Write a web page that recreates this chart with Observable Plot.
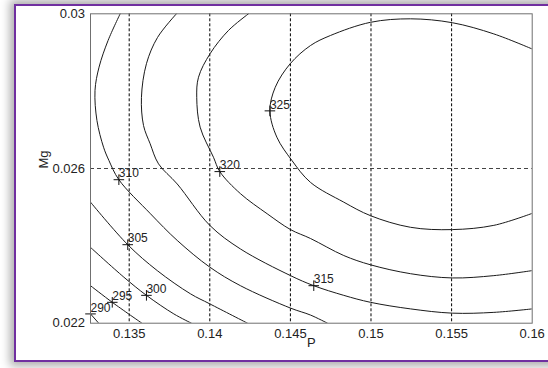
<!DOCTYPE html>
<html>
<head>
<meta charset="utf-8">
<script src="https://cdn.jsdelivr.net/npm/d3@7"></script>
<script src="https://cdn.jsdelivr.net/npm/@observablehq/plot@0.6"></script>
<style>
  html, body { margin: 0; padding: 0; background: #fff; }
  #card {
    position: absolute; left: 14px; top: 4px;
    width: 560px; height: 354px;
    border: 2px solid #7030a0; background: #fff;
    box-shadow: 0 0 9px 4px rgba(0,0,0,0.33);
  }
  #chart { position: absolute; left: 0; top: 0; }
</style>
</head>
<body>
<div id="card"></div>
<div id="chart"></div>
<script>
// Axis ticks and labels
const xTicks = [0.135, 0.14, 0.145, 0.15, 0.155, 0.16];
const xTickLabels = ["0.135", "0.14", "0.145", "0.15", "0.155", "0.16"];
const yTicks = [0.022, 0.026, 0.03];
const yTickLabels = ["0.022", "0.026", "0.03"];

// Contour levels and the traced iso-lines, [P, Mg] pairs
const levels = [290, 295, 300, 305, 310, 315, 320, 325];
const c290 = [[0.13260, 0.02224], [0.13311, 0.02200]];
const c295 = [[0.13260, 0.02297], [0.13395, 0.02254], [0.13579, 0.02200]];
const c300 = [[0.13260, 0.02396], [0.13467, 0.02319], [0.13607, 0.02272], [0.13777, 0.02224], [0.13886, 0.02200]];
const c305 = [[0.13260, 0.02513], [0.13491, 0.02403], [0.13674, 0.02336], [0.13880, 0.02276], [0.14000, 0.02250], [0.14234, 0.02200]];
const c310 = [[0.13444, 0.03000], [0.13369, 0.02931], [0.13313, 0.02862], [0.13288, 0.02802], [0.13300, 0.02724],
              [0.13341, 0.02655], [0.13374, 0.02621], [0.13436, 0.02571], [0.13632, 0.02483], [0.13798, 0.02414],
              [0.14000, 0.02345], [0.14190, 0.02297], [0.14501, 0.02239], [0.14625, 0.02221], [0.14730, 0.02200]];
const c315 = [[0.13793, 0.03000], [0.13676, 0.02939], [0.13607, 0.02871], [0.13576, 0.02784], [0.13589, 0.02711],
              [0.13630, 0.02664], [0.13682, 0.02612], [0.13798, 0.02560], [0.14000, 0.02453], [0.14190, 0.02392],
              [0.14501, 0.02323], [0.14645, 0.02297], [0.14831, 0.02272], [0.14997, 0.02254], [0.15245, 0.02237],
              [0.15504, 0.02226], [0.15762, 0.02228], [0.16000, 0.02237]];
const c320 = [[0.14240, 0.03000], [0.14116, 0.02957], [0.14002, 0.02897], [0.13930, 0.02836], [0.13919, 0.02784],
              [0.13940, 0.02707], [0.14023, 0.02629], [0.14062, 0.02592], [0.14190, 0.02535], [0.14356, 0.02483],
              [0.14501, 0.02442], [0.14625, 0.02419], [0.14831, 0.02375], [0.14997, 0.02351], [0.15245, 0.02328],
              [0.15504, 0.02317], [0.15762, 0.02323], [0.16000, 0.02336]];
const c325 = [[0.16000, 0.02909], [0.15762, 0.02948], [0.15504, 0.02977], [0.15245, 0.02987], [0.14997, 0.02978],
              [0.14749, 0.02944], [0.14625, 0.02918], [0.14499, 0.02871], [0.14406, 0.02810], [0.14373, 0.02749],
              [0.14416, 0.02681], [0.14509, 0.02621], [0.14625, 0.02564], [0.14831, 0.02513], [0.14997, 0.02478],
              [0.15245, 0.02448], [0.15504, 0.02442], [0.15762, 0.02453], [0.16000, 0.02484]];

// Inline level labels: where each "+" sits on its line
const labelLevels = [290, 295, 300, 305, 310, 315, 320, 325];
const labelP  = [0.13260, 0.13395, 0.13607, 0.13491, 0.13436, 0.14645, 0.14062, 0.14373];
const labelMg = [0.02224, 0.02254, 0.02272, 0.02403, 0.02571, 0.02297, 0.02592, 0.02749];

const contours = [c290, c295, c300, c305, c310, c315, c320, c325];
const lineRows = contours.flatMap((pts, i) => pts.map(([P, Mg]) => ({level: levels[i], P, Mg})));
const labelRows = labelLevels.map((level, i) => ({level, P: labelP[i], Mg: labelMg[i]}));

const chart = Plot.plot({
  width: 548,
  height: 368,
  marginTop: 13.3,
  marginRight: 16.3,
  marginBottom: 45.3,
  marginLeft: 90,
  style: {background: "transparent", fontFamily: "'Liberation Sans', Arial, sans-serif", fontSize: "13px", color: "#222"},
  x: {domain: [0.1326, 0.16]},
  y: {domain: [0.022, 0.03]},
  marks: [
    Plot.ruleX(xTicks.filter(d => d < 0.16), {stroke: "#000", strokeDasharray: "3,2", strokeWidth: 1}),
    Plot.ruleY(yTicks.filter(d => d > 0.022 && d < 0.03), {stroke: "#444", strokeDasharray: "4,3", strokeWidth: 1}),
    Plot.line(lineRows, {x: "P", y: "Mg", z: "level", stroke: "#1a1a1a", strokeWidth: 1, curve: "catmull-rom", clip: true}),
    Plot.dot(labelRows, {x: "P", y: "Mg", symbol: "plus", r: 3.5, stroke: "#111", strokeWidth: 1}),
    Plot.text(labelRows, {x: "P", y: "Mg", text: d => String(d.level), textAnchor: "start", lineAnchor: "bottom",
      dx: 0, dy: -2.3, fill: "#222", fontSize: 12}),
    Plot.frame({stroke: "#707070"}),
    Plot.axisX({ticks: xTicks, tickSize: 0, tickPadding: 5.5, tickFormat: (d, i) => xTickLabels[i], label: null}),
    Plot.axisY({ticks: yTicks, tickSize: 0, tickPadding: 5.5, tickFormat: (d, i) => yTickLabels[i], label: null}),
    Plot.text(["P"], {frameAnchor: "bottom", dy: 24, fontSize: 13, fill: "#222"}),
    Plot.text(["Mg"], {frameAnchor: "left", dx: -47, rotate: -90, fontSize: 13, fill: "#222"})
  ]
});
document.getElementById("chart").appendChild(chart);
</script>
</body>
</html>
